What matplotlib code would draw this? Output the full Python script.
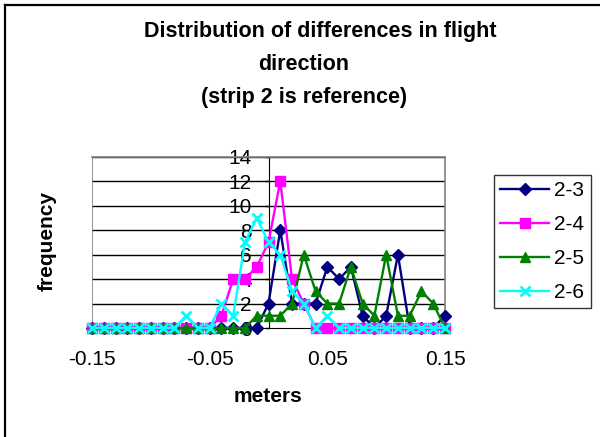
import matplotlib
matplotlib.use("Agg")
import matplotlib.pyplot as plt
import numpy as np
from matplotlib.lines import Line2D

plt.rcParams["font.family"] = ["Liberation Sans", "DejaVu Sans"]

# x categories: differences in metres, -0.15 .. 0.15 in 0.01 steps
offsets = np.round(np.arange(-15, 16) / 100.0, 2)

# frequency per strip pair
freq_2_3 = [0, 0, 0, 0, 0, 0, 0, 0, 0, 0, 0, 0, 0, 0, 0, 2, 8, 2, 2, 2, 5, 4, 5, 1, 0, 1, 6, 0, 0, 0, 1]
freq_2_4 = [0, 0, 0, 0, 0, 0, 0, 0, 0, 0, 0, 1, 4, 4, 5, 7, 12, 4, 2, 0, 0, 0, 0, 0, 0, 0, 0, 0, 0, 0, 0]
freq_2_5 = [0, 0, 0, 0, 0, 0, 0, 0, 0, 0, 0, 0, 0, 0, 1, 1, 1, 2, 6, 3, 2, 2, 5, 2, 1, 6, 1, 1, 3, 2, 0]
freq_2_6 = [0, 0, 0, 0, 0, 0, 0, 0, 1, 0, 0, 2, 1, 7, 9, 7, 6, 3, 2, 0, 1, 0, 0, 0, 0, 0, 0, 0, 0, 0, 0]

series_labels = ["2-3", "2-4", "2-5", "2-6"]
xtick_vals = [-0.15, -0.05, 0.05, 0.15]
xtick_text = ["-0.15", "-0.05", "0.05", "0.15"]
ytick_vals = [0, 2, 4, 6, 8, 10, 12, 14]

W, H = 600, 437
fig = plt.figure(figsize=(W / 100, H / 100), dpi=100)
fig.patch.set_facecolor("white")

# plot area in pixel terms
left, right, top, bottom = 92, 445, 156.7, 328
ax = fig.add_axes([left / W, 1 - bottom / H, (right - left) / W, (bottom - top) / H])

styles = [
    dict(color="#000080", marker="D", ms=6),
    dict(color="#FF00FF", marker="s", ms=6.5),
    dict(color="#008000", marker="^", ms=7.5),
    dict(color="#00FFFF", marker="x", ms=7.5, mew=2),
]
all_series = [freq_2_3, freq_2_4, freq_2_5, freq_2_6]
for vals, lab, st in zip(all_series, series_labels, styles):
    ax.plot(offsets, vals, lw=1.7, label=lab, clip_on=False, zorder=3, **st)

ax.set_xlim(-0.15, 0.15)
ax.set_ylim(0, 14)

# gridlines
for yv in ytick_vals[1:]:
    ax.axhline(yv, color="black", lw=1, zorder=1)

# frame
for s in ["top", "right"]:
    ax.spines[s].set_color("#808080")
    ax.spines[s].set_linewidth(1.2)
ax.axvline(-0.15, color="#808080", lw=1.2, zorder=1)
ax.spines["left"].set_position(("data", 0))
ax.spines["left"].set_color("black")
ax.spines["bottom"].set_color("black")
ax.spines["left"].set_zorder(2)

ax.set_xticks(xtick_vals)
ax.set_xticklabels(xtick_text)
ax.set_yticks(ytick_vals)
ax.set_yticklabels([str(v) for v in ytick_vals])
ax.tick_params(axis="x", direction="out", length=3.6, width=1, pad=12, labelsize=15)
ax.tick_params(axis="y", direction="out", length=3, width=1, pad=9, labelsize=15)

# titles
fig.text(320 / W, 1 - 32 / H, "Distribution of differences in flight", ha="center", va="center",
         fontsize=15.5, fontweight="bold")
fig.text(304 / W, 1 - 65 / H, "direction", ha="center", va="center", fontsize=15.5, fontweight="bold")
fig.text(304 / W, 1 - 98 / H, "(strip 2 is reference)", ha="center", va="center",
         fontsize=15.5, fontweight="bold")
fig.text(268 / W, 1 - 397 / H, "meters", ha="center", va="center", fontsize=15, fontweight="bold")
fig.text(47 / W, 1 - 241 / H, "frequency", ha="center", va="center", rotation=90,
         fontsize=15, fontweight="bold")

leg = ax.legend(loc="upper left", bbox_to_anchor=(494 / W, 1 - 175 / H), bbox_transform=fig.transFigure,
                fontsize=15, frameon=True, fancybox=False, edgecolor="black", borderaxespad=0,
                handlelength=2.35, handletextpad=0.25, labelspacing=0.72, borderpad=0.3)
leg.get_frame().set_linewidth(1)

# chart area border (top and left visible)
fig.add_artist(Line2D([4.5 / W, 4.5 / W], [0, 1 - 5 / H], transform=fig.transFigure, color="black", lw=1.6))
fig.add_artist(Line2D([4.5 / W, 1], [1 - 5 / H, 1 - 5 / H], transform=fig.transFigure, color="black", lw=1.6))

fig.savefig("out.png", dpi=100)
